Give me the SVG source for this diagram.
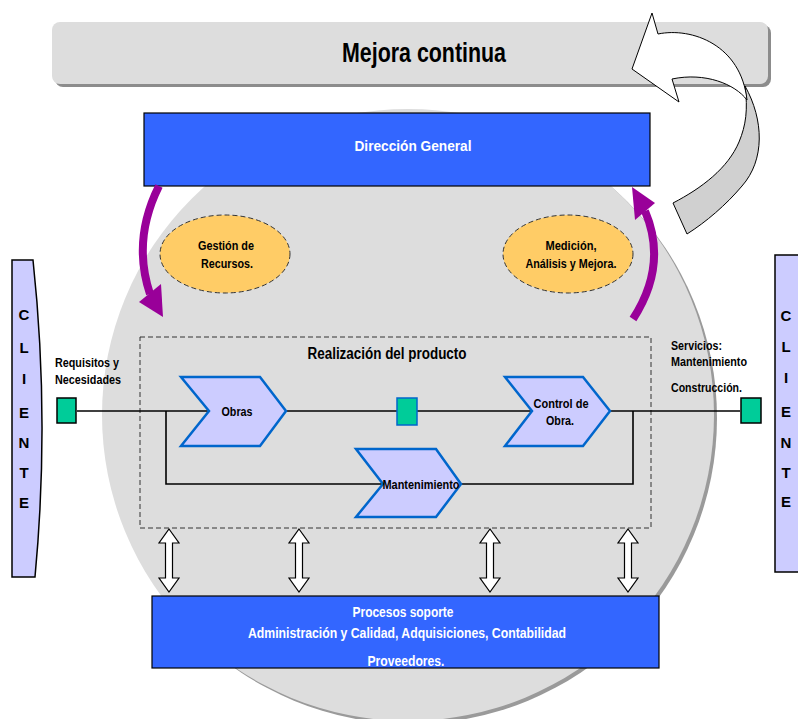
<svg xmlns="http://www.w3.org/2000/svg" width="798" height="719" viewBox="0 0 798 719">
<style>
.t{font-family:"Liberation Sans Narrow","Liberation Sans",Arial,sans-serif;font-weight:bold;fill:#000;}
.w{fill:#fff;}
.c{text-anchor:middle;}
.s12{font-size:13px;}
.s13{font-size:14px;}
.chev{fill:#CCCCFF;stroke:#0066CC;stroke-width:2.5;stroke-linejoin:miter;}
.blue{fill:#3366FF;stroke:#000;stroke-width:1.2;}
.ell{fill:#FFCC66;stroke:#333;stroke-width:1;stroke-dasharray:5,3;}
.cli{fill:#CCCCFF;stroke:#000;stroke-width:1.5;}
.ln{fill:none;stroke:#000;stroke-width:1.6;}
.purp{fill:none;stroke:#990099;stroke-width:8;}
.ph{fill:#990099;}
.grn{fill:#00CC99;stroke:#000;stroke-width:1.5;}
.dbl{fill:#fff;stroke:#000;stroke-width:1.2;}
</style>
<defs>
<path id="dbl" d="M0,0 L10,14 L3.5,14 L3.5,49 L10,49 L0,63 L-10,49 L-3.5,49 L-3.5,14 L-10,14 Z"/>
</defs>
<rect width="798" height="719" fill="#fff"/>
<g id="background-circle">
<circle cx="411" cy="418" r="306" fill="#9A9A9A"/>
<circle cx="408" cy="415" r="306" fill="#DDDDDD"/>
</g>
<g id="mejora-continua">
<rect x="55" y="25" width="716" height="62" rx="8" fill="#8C8C8C"/>
<rect x="52" y="22" width="716" height="62" rx="8" fill="#DDDDDD"/>
<text class="t c" x="424" y="62" font-size="27" textLength="164" lengthAdjust="spacingAndGlyphs">Mejora continua</text>
</g>
<g id="curved-arrow">
<path d="M745,86 C764,120 765,160 742,186 C726,205 706,222 687,234 L673,203 C702,188 728,168 739,142 C746,125 748,110 745,86 Z" fill="#D0D0D0" stroke="#000" stroke-width="1"/>
<path d="M652,13 L658,34 C692,27 741,45 747,100 C735,84 705,72 672,79 L679,102 L632,69 Z" fill="#fff" stroke="#000" stroke-width="1"/>
</g>
<g id="direccion-general">
<rect class="blue" x="144" y="113" width="506" height="73"/>
<text class="t w c" x="413" y="151" font-size="15" textLength="117" lengthAdjust="spacingAndGlyphs">Dirección  General</text>
</g>
<g id="gestion-recursos">
<path class="purp" d="M159,186 Q132,240 150,294"/>
<polygon class="ph" points="139,302 163,317 161,284"/>
<ellipse class="ell" cx="225" cy="254" rx="65" ry="39"/>
<text class="t c s12" x="226" y="250" textLength="56" lengthAdjust="spacingAndGlyphs">Gestión de</text>
<text class="t c s12" x="227" y="268" textLength="52" lengthAdjust="spacingAndGlyphs">Recursos.</text>
</g>
<g id="medicion-analisis">
<path class="purp" d="M633,319 Q668,265 645,211"/>
<polygon class="ph" points="632,187 655,203 635,220"/>
<ellipse class="ell" cx="568" cy="254" rx="65" ry="39"/>
<text class="t c s12" x="571" y="250" textLength="51" lengthAdjust="spacingAndGlyphs">Medición,</text>
<text class="t c s12" x="571" y="268" textLength="91" lengthAdjust="spacingAndGlyphs">Análisis y Mejora.</text>
</g>
<g id="cliente-izq">
<path class="cli" d="M12,260 L33,260 Q50,418 35,577 L12,577 Z"/>
<g class="t c" font-size="15">
<text x="24" y="320">C</text>
<text x="24" y="353">L</text>
<text x="24" y="384">I</text>
<text x="24" y="418">E</text>
<text x="24" y="448">N</text>
<text x="24" y="478">T</text>
<text x="24" y="508">E</text>
</g>
</g>
<g id="cliente-der">
<path class="cli" d="M775,255 L800,255 L800,572 L775,572 Z"/>
<g class="t c" font-size="15">
<text x="786" y="321">C</text>
<text x="786" y="352">L</text>
<text x="786" y="383">I</text>
<text x="786" y="417">E</text>
<text x="786" y="448">N</text>
<text x="786" y="478">T</text>
<text x="786" y="507">E</text>
</g>
</g>
<g id="requisitos">
<text class="t s12" x="55" y="367" textLength="64" lengthAdjust="spacingAndGlyphs">Requisitos y</text>
<text class="t s12" x="55" y="384" textLength="66" lengthAdjust="spacingAndGlyphs">Necesidades</text>
</g>
<g id="servicios">
<text class="t s12" x="671" y="350" textLength="51" lengthAdjust="spacingAndGlyphs">Servicios:</text>
<text class="t s12" x="671" y="366" textLength="76" lengthAdjust="spacingAndGlyphs">Mantenimiento</text>
<text class="t s12" x="671" y="392" textLength="71" lengthAdjust="spacingAndGlyphs">Construcción.</text>
</g>
<g id="realizacion-producto">
<rect x="140" y="337" width="511" height="191" fill="none" stroke="#333" stroke-width="1" stroke-dasharray="5,3"/>
<text class="t c" x="387" y="359" font-size="16" textLength="159" lengthAdjust="spacingAndGlyphs">Realización del producto</text>
</g>
<g id="connectors">
<polyline class="ln" points="77,411 740,411"/>
<polyline class="ln" points="166,411 166,484 633,484 633,411"/>
<use href="#dbl" class="dbl" x="169" y="529"/>
<use href="#dbl" class="dbl" x="299" y="529"/>
<use href="#dbl" class="dbl" x="490" y="529"/>
<use href="#dbl" class="dbl" x="628" y="529"/>
</g>
<g id="req-square"><rect class="grn" x="57" y="398" width="19" height="25"/></g>
<g id="serv-square"><rect class="grn" x="741" y="398" width="20" height="25"/></g>
<g id="mid-square"><rect x="397" y="398" width="20" height="27" fill="#00CC99" stroke="#0066CC" stroke-width="1.5"/></g>
<g id="obras">
<polygon class="chev" points="181,377 260,377 286,411 260,446 181,446 209,411"/>
<text class="t c s12" x="237" y="416" textLength="31" lengthAdjust="spacingAndGlyphs">Obras</text>
</g>
<g id="control-obra">
<polygon class="chev" points="505,377 583,377 610,411 583,446 505,446 532,411"/>
<text class="t c s12" x="561" y="408" textLength="55" lengthAdjust="spacingAndGlyphs">Control de</text>
<text class="t c s12" x="560" y="425" textLength="28" lengthAdjust="spacingAndGlyphs">Obra.</text>
</g>
<g id="mantenimiento">
<polygon class="chev" points="356,449 436,449 461,484 436,517 356,517 383,484"/>
<text class="t c s12" x="421" y="489" textLength="77" lengthAdjust="spacingAndGlyphs">Mantenimiento</text>
</g>
<g id="procesos-soporte">
<rect class="blue" x="152" y="596" width="507" height="72"/>
<text class="t w c s13" x="403" y="617" textLength="101" lengthAdjust="spacingAndGlyphs">Procesos soporte</text>
<text class="t w c s13" x="407" y="638" textLength="318" lengthAdjust="spacingAndGlyphs">Administración y Calidad, Adquisiciones,  Contabilidad</text>
<text class="t w c s13" x="406" y="666" textLength="77" lengthAdjust="spacingAndGlyphs">Proveedores.</text>
</g>
</svg>
